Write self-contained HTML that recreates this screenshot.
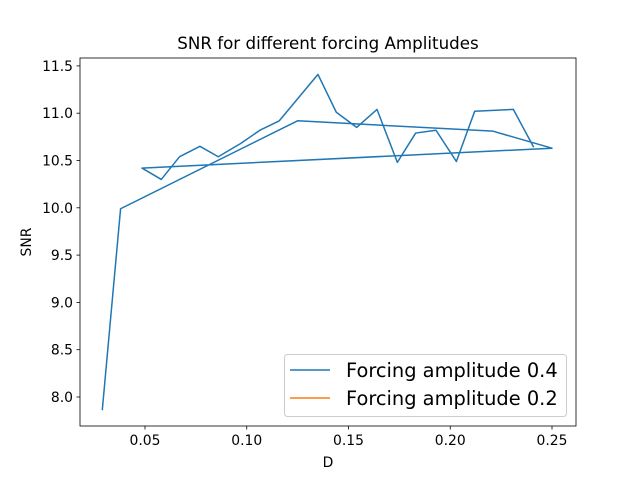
<!DOCTYPE html>
<html><head><meta charset="utf-8"><style>body{margin:0;background:#fff}svg text{font-family:"DejaVu Sans","Liberation Sans",sans-serif;fill:#000}</style></head>
<body>
<svg id="chart" width="640" height="480" xmlns="http://www.w3.org/2000/svg">
<rect width="640" height="480" fill="#fff"/>
<g id="g"></g>
</svg>
<script>
const dValues=[0.029,0.038,0.125,0.221,0.25,0.0485,0.058,0.067,0.077,0.086,0.097,0.1065,0.116,0.135,0.144,0.154,0.164,0.174,0.183,0.193,0.203,0.212,0.231,0.241];
const snrValues=[7.86,9.99,10.92,10.81,10.63,10.42,10.30,10.54,10.65,10.54,10.68,10.82,10.92,11.41,11.01,10.85,11.04,10.48,10.79,10.82,10.49,11.02,11.04,10.64];
const xTicks=[0.05,0.10,0.15,0.20,0.25];
const xTickLabels=["0.05","0.10","0.15","0.20","0.25"];
const yTicks=[8.0,8.5,9.0,9.5,10.0,10.5,11.0,11.5];
const yTickLabels=["8.0","8.5","9.0","9.5","10.0","10.5","11.0","11.5"];
const X=d=>145+(d-0.05)*2035;
const Y=v=>397-(v-8)*94.6;
const NS="http://www.w3.org/2000/svg";
const g=document.getElementById('g');
function mk(t,a,p){const e=document.createElementNS(NS,t);for(const k in a)e.setAttribute(k,a[k]);(p||g).appendChild(e);return e;}
let pts=dValues.map((d,i)=>X(d)+","+Y(snrValues[i])).join(" ");
let line=mk('polyline',{points:pts,fill:'none',stroke:'#1f77b4','stroke-width':1.5,'stroke-linejoin':'round'});


let frame=mk('rect',{x:80,y:58,width:496,height:368,fill:'none',stroke:'#000','stroke-width':0.8});


xTicks.forEach((t,i)=>{const x=X(t);mk('line',{x1:x,x2:x,y1:426,y2:429.5,stroke:'#000','stroke-width':0.8});
const tx=mk('text',{x:x,y:445,'text-anchor':'middle','font-size':13.9});tx.textContent=xTickLabels[i];

});
yTicks.forEach((t,i)=>{const y=Y(t);mk('line',{x1:76.5,x2:80,y1:y,y2:y,stroke:'#000','stroke-width':0.8});
const tx=mk('text',{x:73,y:y+5,'text-anchor':'end','font-size':13.9});tx.textContent=yTickLabels[i];

});
let t=mk('text',{x:328,y:49,'text-anchor':'middle','font-size':16.7});t.textContent='SNR for different forcing Amplitudes';


t=mk('text',{x:328,y:467,'text-anchor':'middle','font-size':13.9});t.textContent='D';


t=mk('text',{x:0,y:0,'text-anchor':'middle','font-size':13.9,transform:'translate(31,242) rotate(-90)'});t.textContent='SNR';


let lg=mk('g',{});


mk('rect',{x:284.5,y:354.5,width:282,height:62,rx:3,fill:'#fff','fill-opacity':0.8,stroke:'#ccc'},lg);
[['#1f77b4','Forcing amplitude 0.4',370],['#ff7f0e','Forcing amplitude 0.2',398]].forEach(([c,l,y])=>{
mk('line',{x1:290,x2:330,y1:y,y2:y,stroke:c,'stroke-width':1.5},lg);
const e=mk('text',{x:346,y:y+7,'font-size':19.4},lg);e.textContent=l;

});
</script>
</body></html>
